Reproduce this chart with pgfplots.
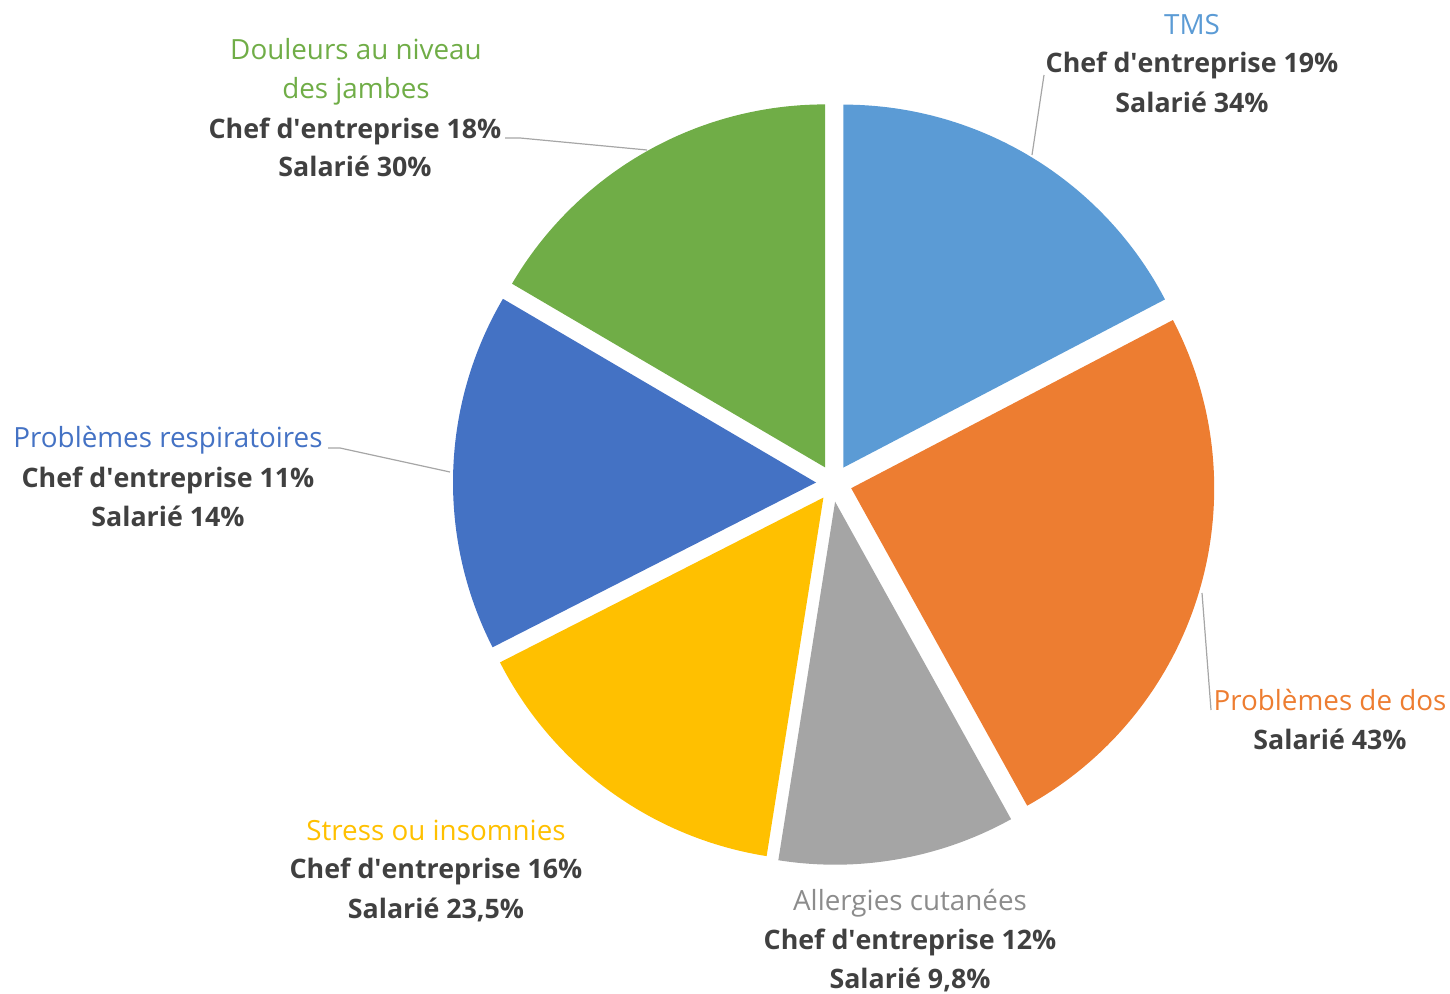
\documentclass[border=0pt]{standalone}
\usepackage{pgfplots}
\pgfplotsset{compat=1.18}
\usepackage{fontspec}
\setmainfont{Open Sans}
\definecolor{cTMS}{HTML}{5B9BD5}
\definecolor{cDos}{HTML}{ED7D31}
\definecolor{cAll}{HTML}{A5A5A5}
\definecolor{cStr}{HTML}{FFC000}
\definecolor{cResp}{HTML}{4472C4}
\definecolor{cJam}{HTML}{70AD47}
\definecolor{txt}{HTML}{404040}
\definecolor{lead}{HTML}{A6A6A6}
\newcommand{\ap}{\textquotesingle}
\tikzset{
  ttl/.style={anchor=base, inner sep=0pt, font=\fontsize{13.9}{16}\selectfont},
  val/.style={anchor=base, inner sep=0pt, text=txt, font=\fontsize{13.4}{16}\selectfont\bfseries},
}
\begin{document}
\begin{tikzpicture}
\begin{axis}[
  hide axis, scale only axis, width=725pt, height=497pt,
  xmin=0, xmax=1450, ymin=0, ymax=994, y dir=reverse, clip=false,
  samples=90,
]
% pie slices: start/end angles (degrees, counter-clockwise) from the slice shares
% TMS 62.4, Dos 88.6, Allergies 38.0, Stress 54.0, Respiratoires 57.4, Jambes 59.6
\addplot[draw=none, fill=cTMS, domain=27.6:90, variable=\t]
  ({843.3+363*cos(\t)}, {467.6-363*sin(\t)}) -- (axis cs:843.3,467.6) -- cycle;
\addplot[draw=none, fill=cDos, domain=-61:27.6, variable=\t]
  ({851.2+363*cos(\t)}, {488.2-363*sin(\t)}) -- (axis cs:851.2,488.2) -- cycle;
\addplot[draw=none, fill=cAll, domain=-99:-61, variable=\t]
  ({835.1+363*cos(\t)}, {501.7-363*sin(\t)}) -- (axis cs:835.1,501.7) -- cycle;
\addplot[draw=none, fill=cStr, domain=-153:-99, variable=\t]
  ({823.4+363*cos(\t)}, {497.6-363*sin(\t)}) -- (axis cs:823.4,497.6) -- cycle;
\addplot[draw=none, fill=cResp, domain=149.6:207, variable=\t]
  ({816.0+363*cos(\t)}, {482.5-363*sin(\t)}) -- (axis cs:816.0,482.5) -- cycle;
\addplot[draw=none, fill=cJam, domain=90:149.6, variable=\t]
  ({825.1+363*cos(\t)}, {467.4-363*sin(\t)}) -- (axis cs:825.1,467.4) -- cycle;

% leader lines
\draw[lead, line width=0.6pt] (axis cs:1032,155) -- (axis cs:1044,75);
\draw[lead, line width=0.6pt] (axis cs:1202,593) -- (axis cs:1211,710);
\draw[lead, line width=0.6pt] (axis cs:328,448) -- (axis cs:340,448) -- (axis cs:450,472);
\draw[lead, line width=0.6pt] (axis cs:505,138) -- (axis cs:520,138) -- (axis cs:647,150);

% labels
\node[ttl, text=cTMS] at (axis cs:1192,35) {TMS};
\node[val] at (axis cs:1192,73) {Chef d\ap entreprise 19\%};
\node[val] at (axis cs:1192,113) {Salarié 34\%};

\node[ttl, text=cJam] at (axis cs:356,60) {Douleurs au niveau};
\node[ttl, text=cJam] at (axis cs:356,99) {des jambes};
\node[val] at (axis cs:355,139) {Chef d\ap entreprise 18\%};
\node[val] at (axis cs:355,177) {Salarié 30\%};

\node[ttl, text=cResp] at (axis cs:168,447) {Problèmes respiratoires};
\node[val] at (axis cs:168,487) {Chef d\ap entreprise 11\%};
\node[val] at (axis cs:168,526) {Salarié 14\%};

\node[ttl, text=cDos] at (axis cs:1330,710) {Problèmes de dos};
\node[val] at (axis cs:1330,749) {Salarié 43\%};

\node[ttl, text=cStr] at (axis cs:436,840) {Stress ou insomnies};
\node[val] at (axis cs:436,878) {Chef d\ap entreprise 16\%};
\node[val] at (axis cs:436,918) {Salarié 23,5\%};

\node[ttl, text=cAll!85!black] at (axis cs:910,910) {Allergies cutanées};
\node[val] at (axis cs:910,949) {Chef d\ap entreprise 12\%};
\node[val] at (axis cs:910,988) {Salarié 9,8\%};

\coordinate (BL) at (axis cs:0,994);
\coordinate (TR) at (axis cs:1450,0);
\end{axis}
\pgfresetboundingbox
\path[use as bounding box] (BL) rectangle (TR);
\end{tikzpicture}
\end{document}
